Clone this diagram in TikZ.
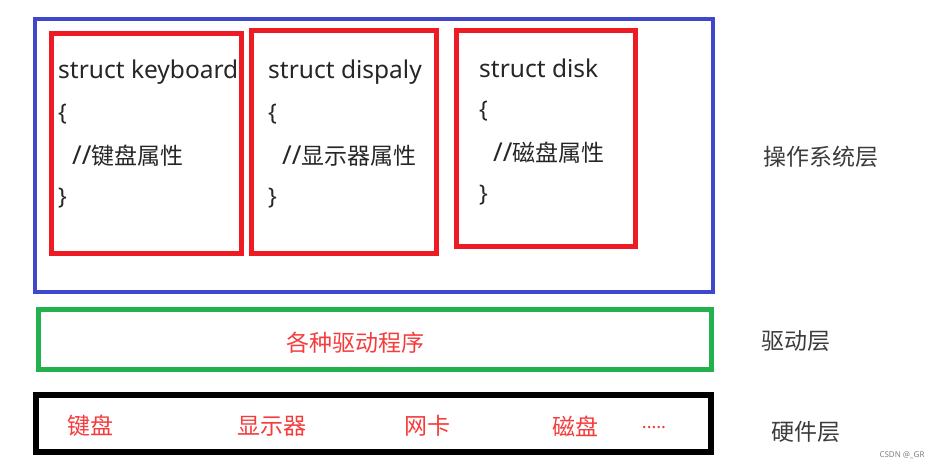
\documentclass[tikz,border=0pt]{standalone}
\usepackage{fontspec}
\setmainfont{Noto Sans CJK SC}
\newfontfamily\lat{Noto Sans}
\usepackage{tikz}
\usepackage{xcolor}
\definecolor{osblue}{RGB}{63,72,204}
\definecolor{boxred}{RGB}{237,28,36}
\definecolor{drvgreen}{RGB}{34,177,76}
\definecolor{txtred}{RGB}{245,60,60}
\definecolor{lblgray}{RGB}{60,60,60}

\begin{document}
\begin{tikzpicture}[x=1pt,y=-1pt,
    frame/.style={draw,inner sep=0pt,outer sep=0pt},
    code/.style={anchor=west,inner sep=0pt,text=black!85,font=\fontsize{23}{23}\selectfont},
    layername/.style={text=lblgray,inner sep=0pt,font=\fontsize{23}{23}\selectfont},
    hwitem/.style={text=txtred,inner sep=0pt,font=\fontsize{23}{23}\selectfont}]
                \useasboundingbox (0,0) rectangle (942,469);
                \node[frame,osblue,line width=4pt,minimum width=678pt,minimum height=273pt] (os) at (374,155.5) {};
                \node[frame,boxred,line width=5pt,minimum width=190pt,minimum height=220pt] (kb) at (146,143) {};
                \node[frame,boxred,line width=5pt,minimum width=185pt,minimum height=223pt] (dp) at (343.5,141.5) {};
                \node[frame,boxred,line width=5pt,minimum width=179pt,minimum height=216pt] (dk) at (545.5,138) {};
                \node[frame,drvgreen,line width=5pt,minimum width=673pt,minimum height=60pt] (drv) at (374.5,339.5) {};
                \node[frame,black,line width=6pt,minimum width=675pt,minimum height=57pt] (hw) at (373.5,423.5) {};

                \node[code] (kb1) at (58,72) {\lat\fontsize{24.5}{24.5}\selectfont struct keyboard};
                \node[code] (kb2) at (58,114) {\lat \{};
                \node[code] (kb3) at (72,156) {{\lat\fontsize{26}{26}\selectfont //}键盘属性};
                \node[code] (kb4) at (58,198) {\lat \}};

                \node[code] (dp1) at (268,72) {\lat\fontsize{24.5}{24.5}\selectfont struct dispaly};
                \node[code] (dp2) at (268,114) {\lat \{};
                \node[code] (dp3) at (282,156) {{\lat\fontsize{26}{26}\selectfont //}显示器属性};
                \node[code] (dp4) at (268,198) {\lat \}};

                \node[code] (dk1) at (479,68) {\lat\fontsize{24.5}{24.5}\selectfont struct disk};
                \node[code] (dk2) at (479,111) {\lat \{};
                \node[code] (dk3) at (493,153) {{\lat\fontsize{26}{26}\selectfont //}磁盘属性};
                \node[code] (dk4) at (479,195) {\lat \}};

                \node[hwitem] (drvtxt) at (355,343) {各种驱动程序};
                \node[hwitem] (hw1) at (90,426) {键盘};
                \node[hwitem] (hw2) at (272,426) {显示器};
                \node[hwitem] (hw3) at (427,426) {网卡};
                \node[hwitem] (hw4) at (575,426) {磁盘};
                \node[hwitem,font=\fontsize{18}{18}\selectfont\lat] (hw5) at (654,428) {.....};

                \node[layername] (oslbl) at (821,157) {操作系统层};
                \node[layername] (drvlbl) at (796,341) {驱动层};
                \node[layername] (hwlbl) at (806,432) {硬件层};
                \node[text=gray,inner sep=0pt,font=\fontsize{8}{8}\selectfont\lat] (mark) at (902,455) {CSDN @\_GR};
            \end{tikzpicture}
\end{document}
